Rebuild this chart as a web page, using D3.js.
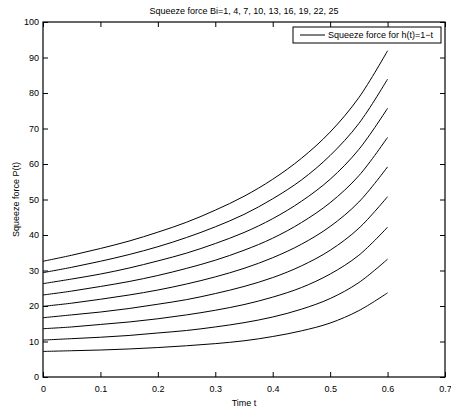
<!DOCTYPE html>
<html>
<head>
<meta charset="utf-8">
<script src="https://cdnjs.cloudflare.com/ajax/libs/d3/7.8.5/d3.min.js"></script>
<style>
  body { margin: 0; background: #fff; }
  text { font-family: "Liberation Sans", Arial, Helvetica, sans-serif; }
</style>
</head>
<body>
<div id="chart"></div>
<script>
// data
var timeT = [0, 0.05, 0.1, 0.15, 0.2, 0.25, 0.3, 0.35, 0.4, 0.45, 0.5, 0.55, 0.6];
var biValues = [1, 4, 7, 10, 13, 16, 19, 22, 25];

var forceBi1  = [7.2, 7.4, 7.6, 7.9, 8.3, 8.8, 9.4, 10.2, 11.4, 13.0, 15.2, 18.7, 23.7];
var forceBi4  = [10.4, 10.8, 11.2, 11.7, 12.4, 13.1, 14.1, 15.3, 16.9, 19.1, 22.1, 26.6, 33.2];
var forceBi7  = [13.6, 14.1, 14.8, 15.5, 16.4, 17.5, 18.8, 20.4, 22.5, 25.2, 29.0, 34.3, 42.2];
var forceBi10 = [16.7, 17.5, 18.3, 19.3, 20.5, 21.8, 23.5, 25.5, 28.0, 31.3, 35.7, 41.9, 50.8];
var forceBi13 = [19.9, 20.8, 21.9, 23.1, 24.5, 26.2, 28.2, 30.6, 33.6, 37.4, 42.4, 49.3, 59.2];
var forceBi16 = [23.1, 24.2, 25.5, 26.9, 28.6, 30.6, 32.9, 35.7, 39.1, 43.5, 49.1, 56.7, 67.5];
var forceBi19 = [26.3, 27.6, 29.0, 30.7, 32.7, 34.9, 37.6, 40.7, 44.6, 49.5, 55.7, 64.1, 75.7];
var forceBi22 = [29.4, 30.9, 32.6, 34.5, 36.7, 39.3, 42.3, 45.8, 50.2, 55.5, 62.4, 71.4, 83.9];
var forceBi25 = [32.6, 34.3, 36.2, 38.3, 40.8, 43.6, 47.0, 50.9, 55.7, 61.6, 69.0, 78.7, 91.9];

var allSeries = [forceBi1, forceBi4, forceBi7, forceBi10, forceBi13,
                 forceBi16, forceBi19, forceBi22, forceBi25];

var xTicks = [0, 0.1, 0.2, 0.3, 0.4, 0.5, 0.6, 0.7];
var yTicks = [0, 10, 20, 30, 40, 50, 60, 70, 80, 90, 100];

var chartTitle = "Squeeze force Bi=" + biValues.join(", ");
var legendLabel = "Squeeze force for h(t)=1\u2212t";

// set the dimensions and margins of the graph
var margin = {top: 22, right: 6, bottom: 33, left: 43},
    width = 451 - margin.left - margin.right,
    height = 410 - margin.top - margin.bottom;

var fontSize = "9px";

var svg = d3.select("#chart").append("svg")
    .attr("width", 451)
    .attr("height", 410)
  .append("g")
    .attr("transform", "translate(" + margin.left + "," + margin.top + ")");

var x = d3.scaleLinear().domain([0, 0.7]).range([0, width]);
var y = d3.scaleLinear().domain([0, 100]).range([height, 0]);

var tickLen = 5;

// axes (matlab style: ticks inside, box on all sides)
svg.append("g")
    .attr("transform", "translate(0," + height + ")")
    .call(d3.axisBottom(x).tickValues(xTicks).tickSize(-tickLen).tickPadding(9)
      .tickFormat(d3.format("")));
svg.append("g")
    .call(d3.axisTop(x).tickValues(xTicks).tickSize(-tickLen).tickFormat(""));
svg.append("g")
    .call(d3.axisLeft(y).tickValues(yTicks).tickSize(-tickLen).tickPadding(4));
svg.append("g")
    .attr("transform", "translate(" + width + ",0)")
    .call(d3.axisRight(y).tickValues(yTicks).tickSize(-tickLen).tickFormat(""));

svg.selectAll(".domain").remove();
svg.selectAll(".tick line").attr("stroke", "#000").attr("stroke-width", 1);
svg.selectAll(".tick text")
    .attr("fill", "#000")
    .style("font-size", fontSize);

svg.append("rect")
    .attr("x", 0)
    .attr("y", 0)
    .attr("width", width)
    .attr("height", height)
    .attr("fill", "none")
    .attr("stroke", "#000")
    .attr("stroke-width", 1.2);

// curves
var line = d3.line()
    .x(function(d, i) { return x(timeT[i]); })
    .y(function(d) { return y(d); })
    .curve(d3.curveCatmullRom);

svg.append("g")
  .selectAll("path")
  .data(allSeries)
  .enter()
  .append("path")
    .attr("d", line)
    .attr("fill", "none")
    .attr("stroke", "#000")
    .attr("stroke-width", 1);

// title and labels
svg.append("text")
    .attr("x", width / 2)
    .attr("y", -8)
    .style("text-anchor", "middle")
    .style("font-size", fontSize)
    .text(chartTitle);

svg.append("text")
    .attr("x", width / 2)
    .attr("y", height + 29)
    .style("text-anchor", "middle")
    .style("font-size", fontSize)
    .text("Time t");

svg.append("text")
    .attr("transform", "rotate(-90)")
    .attr("x", -height / 2)
    .attr("y", -24)
    .style("text-anchor", "middle")
    .style("font-size", fontSize)
    .text("Squeeze force P(t)");

// legend
var legend = svg.append("g")
    .attr("transform", "translate(" + (width - 152) + ",5)");

legend.append("rect")
    .attr("width", 148)
    .attr("height", 16)
    .attr("fill", "#fff")
    .attr("stroke", "#000")
    .attr("stroke-width", 1);

legend.append("line")
    .attr("x1", 7)
    .attr("x2", 32)
    .attr("y1", 8)
    .attr("y2", 8)
    .attr("stroke", "#000");

legend.append("text")
    .attr("x", 35)
    .attr("y", 8)
    .attr("dy", ".35em")
    .style("font-size", fontSize)
    .text(legendLabel);
</script>
</body>
</html>
